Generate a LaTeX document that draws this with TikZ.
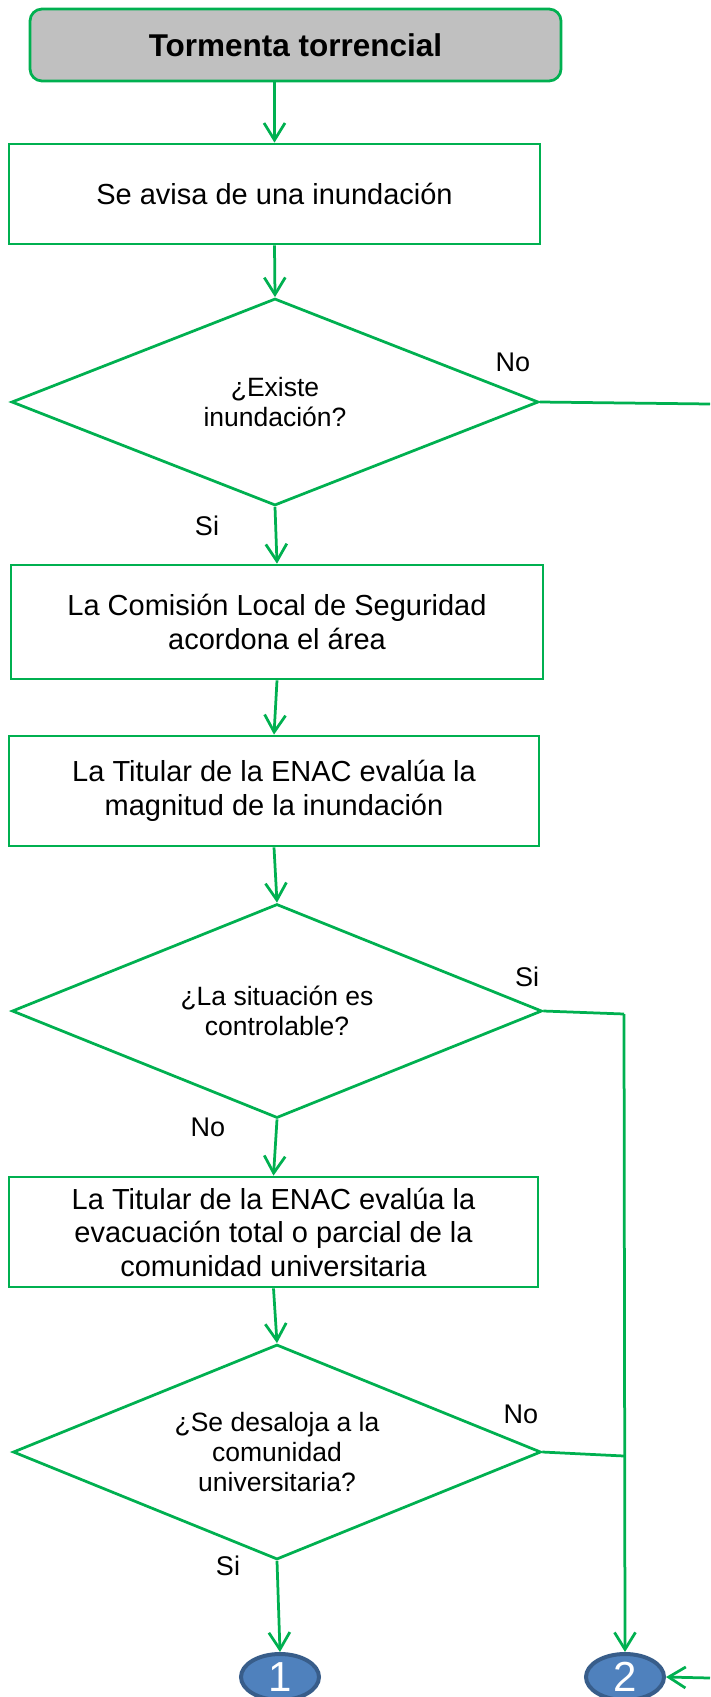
\documentclass[tikz,border=0pt]{standalone}
\usepackage{fontspec}
\setmainfont{Liberation Sans}
\usetikzlibrary{shapes.geometric,arrows.meta}
\definecolor{verde}{RGB}{0,176,80}
\definecolor{gris}{RGB}{192,192,192}
\definecolor{azul}{RGB}{79,129,189}
\definecolor{azulborde}{RGB}{56,93,138}
\tikzset{
  inicio/.style={draw=verde,fill=gris,line width=2.75pt,rounded corners=12pt,minimum width=531pt,minimum height=72pt,inner sep=0pt,font=\fontsize{31.5}{36}\selectfont\bfseries},
  paso/.style={draw=verde,line width=2.75pt,inner sep=0pt,align=center,font=\fontsize{29}{33.5}\selectfont},
  decision/.style={draw=verde,line width=2.75pt,diamond,aspect=2.5,inner sep=0pt,align=center,font=\fontsize{26.5}{30}\selectfont},
  flecha/.style={draw=verde,line width=2.75pt,-{Straight Barb[length=17pt,width=21pt]}},
  linea/.style={draw=verde,line width=2.75pt},
  etiqueta/.style={font=\fontsize{27}{30}\selectfont},
  conector/.style={ellipse,draw=azulborde,fill=azul,line width=4pt,minimum width=78pt,minimum height=46pt,inner sep=0pt,text=white,font=\fontsize{42}{42}\selectfont}
}
\begin{document}
\begin{tikzpicture}[x=1pt,y=-1pt]
\useasboundingbox (0,0) rectangle (710,1697);
\node[inicio] (tormenta) at (295.5,45) {Tormenta torrencial};
\node[paso,minimum width=531pt,minimum height=100pt] (aviso) at (274.5,194) {Se avisa de una inundación};
\node[decision,minimum width=527pt,minimum height=207pt] (existe) at (275,402) {¿Existe\\inundación?};
\node[paso,minimum width=532pt,minimum height=114pt] (acordona) at (277,622) {La Comisión Local de Seguridad\\acordona el área};
\node[paso,minimum width=530pt,minimum height=110pt] (magnitud) at (274,791) {La Titular de la ENAC evalúa la\\magnitud de la inundación};
\node[decision,minimum width=530pt,minimum height=214pt] (controlable) at (277,1011) {¿La situación es\\controlable?};
\node[paso,minimum width=529pt,minimum height=110pt] (evacuacion) at (273.5,1232) {La Titular de la ENAC evalúa la\\evacuación total o parcial de la\\comunidad universitaria};
\node[decision,minimum width=528pt,minimum height=215pt] (desaloja) at (277,1452) {¿Se desaloja a la\\comunidad\\universitaria?};
\node[conector] (uno) at (280,1677) {1};
\node[conector] (dos) at (625,1677) {2};
\coordinate (salida) at (710,404);
\coordinate (esquina1) at (624,1014);
\coordinate (esquina2) at (624,1456);
\coordinate (entrada) at (710,1678);
\node[etiqueta] (no1) at (513,362) {No};
\node[etiqueta] (si1) at (207,526) {Si};
\node[etiqueta] (si2) at (527,977) {Si};
\node[etiqueta] (no2) at (208,1127) {No};
\node[etiqueta] (no3) at (521,1414) {No};
\node[etiqueta] (si3) at (228,1566) {Si};
\draw[flecha] (aviso.north |- tormenta.south) -- (aviso.north);
\draw[flecha] (aviso.south) -- (existe.north);
\draw[linea] (existe.east) -- (salida);
\draw[flecha] (existe.south) -- (acordona.north);
\draw[flecha] (acordona.south) -- (magnitud.north);
\draw[flecha] (magnitud.south) -- (controlable.north);
\draw[linea] (controlable.east) -- (esquina1);
\draw[flecha] (esquina1) -- (dos.north);
\draw[flecha] (controlable.south) -- (evacuacion.north);
\draw[flecha] (evacuacion.south) -- (desaloja.north);
\draw[linea] (desaloja.east) -- (esquina2);
\draw[flecha] (desaloja.south) -- (uno.north);
\draw[flecha] (entrada) -- (dos.east);
\end{tikzpicture}
\end{document}
